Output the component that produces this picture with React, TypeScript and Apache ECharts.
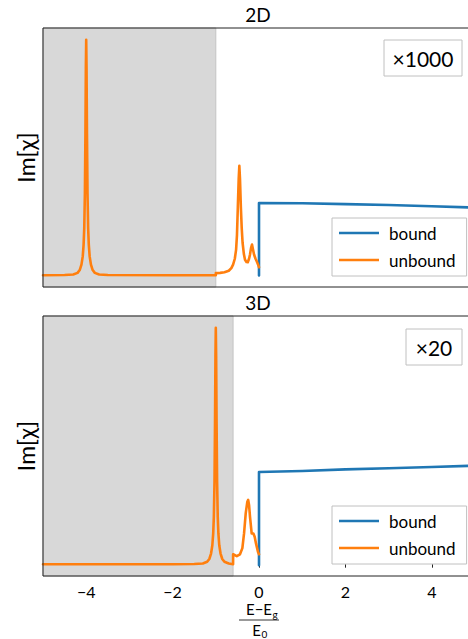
import React, { useEffect, useRef } from "react";
import * as echarts from "echarts";

const xTicks = [-4, -2, 0, 2, 4];
const seriesNames = ["bound", "unbound"];
const panelTitles = ["2D", "3D"];
const scaleNotes = ["×1000", "×20"];
const shade2D = [-5, -1];
const shade3D = [-5, -0.6];

const bound2D: [number, number][] = [
  [0, -0.001], [0, 0.307], [1, 0.306], [2, 0.302], [3, 0.298], [4, 0.293], [5, 0.287],
];
const unbound2D: [number, number][] = [
  [-5, 0], [-4.5, 0.001], [-4.3, 0.003], [-4.2, 0.01], [-4.15, 0.022], [-4.11, 0.045],
  [-4.08, 0.08], [-4.06, 0.13], [-4.045, 0.2], [-4.03, 0.35], [-4.018, 0.6], [-4.008, 0.88],
  [-4.0, 1.0], [-3.992, 0.88], [-3.982, 0.6], [-3.97, 0.35], [-3.955, 0.2], [-3.94, 0.13],
  [-3.92, 0.08], [-3.89, 0.045], [-3.85, 0.022], [-3.8, 0.01], [-3.7, 0.003], [-3.5, 0.001],
  [-2, 0], [-1.0, 0], [-0.999, 0.009], [-0.9, 0.01],
  [-0.8, 0.013], [-0.7, 0.019], [-0.64, 0.03], [-0.6, 0.045], [-0.56, 0.07], [-0.53, 0.109],
  [-0.51, 0.17], [-0.49, 0.29], [-0.47, 0.41], [-0.455, 0.465], [-0.44, 0.41], [-0.42, 0.29],
  [-0.4, 0.2], [-0.38, 0.138], [-0.35, 0.09], [-0.324, 0.066], [-0.29, 0.056], [-0.26, 0.055],
  [-0.23, 0.07], [-0.208, 0.088], [-0.185, 0.115], [-0.162, 0.13], [-0.14, 0.11],
  [-0.115, 0.088], [-0.08, 0.07], [-0.053, 0.059], [-0.025, 0.047], [0, 0.034],
];

const bound3D: [number, number][] = [
  [0, -0.004], [0, 0.39], [1, 0.394], [2, 0.401], [3, 0.406], [4, 0.411], [5, 0.417],
];
const unbound3D: [number, number][] = [
  [-5, 0], [-2, 0], [-1.5, 0.001], [-1.3, 0.003], [-1.2, 0.01], [-1.15, 0.022], [-1.11, 0.045],
  [-1.08, 0.08], [-1.06, 0.13], [-1.045, 0.2], [-1.03, 0.35], [-1.018, 0.6], [-1.008, 0.88],
  [-1.0, 1.0], [-0.992, 0.88], [-0.982, 0.6], [-0.97, 0.35], [-0.955, 0.2], [-0.94, 0.13],
  [-0.92, 0.08], [-0.89, 0.045], [-0.85, 0.022], [-0.8, 0.01], [-0.7, 0.003],
  [-0.6, 0], [-0.599, 0.042], [-0.515, 0.034], [-0.44, 0.042], [-0.385, 0.068],
  [-0.346, 0.13], [-0.307, 0.216], [-0.27, 0.264], [-0.25, 0.272], [-0.23, 0.25],
  [-0.208, 0.2], [-0.17, 0.13], [-0.13, 0.13], [-0.1, 0.116], [-0.07, 0.088],
  [-0.023, 0.052], [0, 0.042],
];

const BLUE = "#1f77b4";
const ORANGE = "#ff7f0e";
const FONT = "Lato, 'DejaVu Sans', sans-serif";

export default function App() {
  const ref = useRef<HTMLDivElement>(null);
  useEffect(() => {
    if (!ref.current) return;
    const chart = echarts.init(ref.current, undefined, { renderer: "svg" });
    const grids = [
      { left: 43, top: 28, width: 432, height: 259 },
      { left: 43, top: 316, width: 432, height: 260 },
    ];
    const lineSeries = (name: string, data: [number, number][], idx: number, color: string, shade?: number[]) => ({
      name,
      type: "line",
      xAxisIndex: idx,
      yAxisIndex: idx,
      data,
      showSymbol: false,
      symbol: "none",
      color,
      lineStyle: { color, width: 2.6, cap: "round", join: "round" },
      z: 2,
      markArea: shade
        ? {
            silent: true,
            itemStyle: { color: "#d8d8d8", borderColor: "#c4c4c4", borderWidth: 1 },
            data: [[{ xAxis: shade[0] }, { xAxis: shade[1] }]],
          }
        : undefined,
    });
    const legendBase = (top: number) => ({
      left: 332,
      top,
      orient: "vertical",
      padding: [6, 11, 7, 7],
      itemGap: 9,
      itemWidth: 40,
      itemHeight: 2.6,
      icon: "rect",
      backgroundColor: "#fff",
      borderColor: "#c0c0c0",
      borderWidth: 1,
      borderRadius: 0,
      itemStyle: { borderWidth: 0 },
      lineStyle: { width: 0 },
      textStyle: { fontSize: 17, fontFamily: FONT, color: "#000", lineHeight: 18, padding: [0, 0, 0, 5] },
      data: seriesNames,
    });
    const scaleBox = (x: number, y: number, w: number, text: string) => ({
      type: "group",
      z: 50,
      children: [
        {
          type: "rect",
          shape: { x, y, width: w, height: 36 },
          style: { fill: "#fff", stroke: "#c0c0c0", lineWidth: 1 },
        },
        {
          type: "text",
          x: x + w / 2,
          y: y + 18,
          style: { text, fontSize: 21, fontFamily: FONT, fill: "#000", align: "center", verticalAlign: "middle" },
        },
      ],
    });
    const option: any = {
      animation: false,
      backgroundColor: "#fff",
      grid: grids.map((g) => ({
        ...g,
        show: true,
        borderColor: "#222",
        borderWidth: 1,
        z: 3,
        containLabel: false,
        outerBoundsMode: "none",
      })),
      xAxis: [0, 1].map((i) => ({
        type: "value",
        gridIndex: i,
        min: -5,
        max: 5,
        axisLine: { show: false },
        splitLine: { show: false },
        axisTick: {
          show: i === 1,
          length: 3.5,
          lineStyle: { color: "#222" },
          customValues: xTicks,
        },
        axisLabel: {
          show: i === 1,
          fontSize: 16,
          fontFamily: FONT,
          color: "#000",
          margin: 7,
          customValues: xTicks,
          formatter: (v: number) => (v < 0 ? "−" + Math.abs(v) : String(v)),
        },
      })),
      yAxis: [0, 1].map((i) => ({
        type: "value",
        gridIndex: i,
        min: -0.05,
        max: 1.05,
        axisLine: { show: false },
        axisTick: { show: false },
        axisLabel: { show: false },
        splitLine: { show: false },
        name: "Im[χ]",
        nameLocation: "middle",
        nameGap: 6,
        nameRotate: 90,
        nameTextStyle: { fontSize: 23, fontFamily: FONT, color: "#000" },
      })),
      legend: [legendBase(218), legendBase(506)],
      series: [
        lineSeries(seriesNames[0], bound2D, 0, BLUE, shade2D),
        lineSeries(seriesNames[1], unbound2D, 0, ORANGE),
        lineSeries(seriesNames[0], bound3D, 1, BLUE, shade3D),
        lineSeries(seriesNames[1], unbound3D, 1, ORANGE),
      ],
      graphic: [
        {
          type: "text",
          x: 258,
          y: 14,
          style: { text: panelTitles[0], fontSize: 19, fontFamily: FONT, fill: "#000", align: "center", verticalAlign: "middle" },
        },
        {
          type: "text",
          x: 258,
          y: 302,
          style: { text: panelTitles[1], fontSize: 19, fontFamily: FONT, fill: "#000", align: "center", verticalAlign: "middle" },
        },
        scaleBox(384, 40, 78, scaleNotes[0]),
        scaleBox(406, 329, 56, scaleNotes[1]),
        {
          type: "text",
          x: 272,
          y: 609,
          style: { text: "E−E", fontSize: 15, fontFamily: FONT, fill: "#000", align: "right", verticalAlign: "middle" },
        },
        {
          type: "text",
          x: 272.5,
          y: 614,
          style: { text: "g", fontSize: 10, fontFamily: FONT, fill: "#000", align: "left", verticalAlign: "middle" },
        },
        {
          type: "line",
          shape: { x1: 239, y1: 620, x2: 279, y2: 620 },
          style: { stroke: "#000", lineWidth: 0.8 },
        },
        {
          type: "text",
          x: 261,
          y: 630,
          style: { text: "E", fontSize: 15, fontFamily: FONT, fill: "#000", align: "right", verticalAlign: "middle" },
        },
        {
          type: "text",
          x: 261.5,
          y: 634,
          style: { text: "0", fontSize: 10, fontFamily: FONT, fill: "#000", align: "left", verticalAlign: "middle" },
        },
      ],
    };
    chart.setOption(option);
    return () => chart.dispose();
  }, []);
  return (
    <div
      ref={ref}
      style={{ position: "absolute", left: 0, top: 0, width: 468, height: 639, overflow: "hidden" }}
    />
  );
}
